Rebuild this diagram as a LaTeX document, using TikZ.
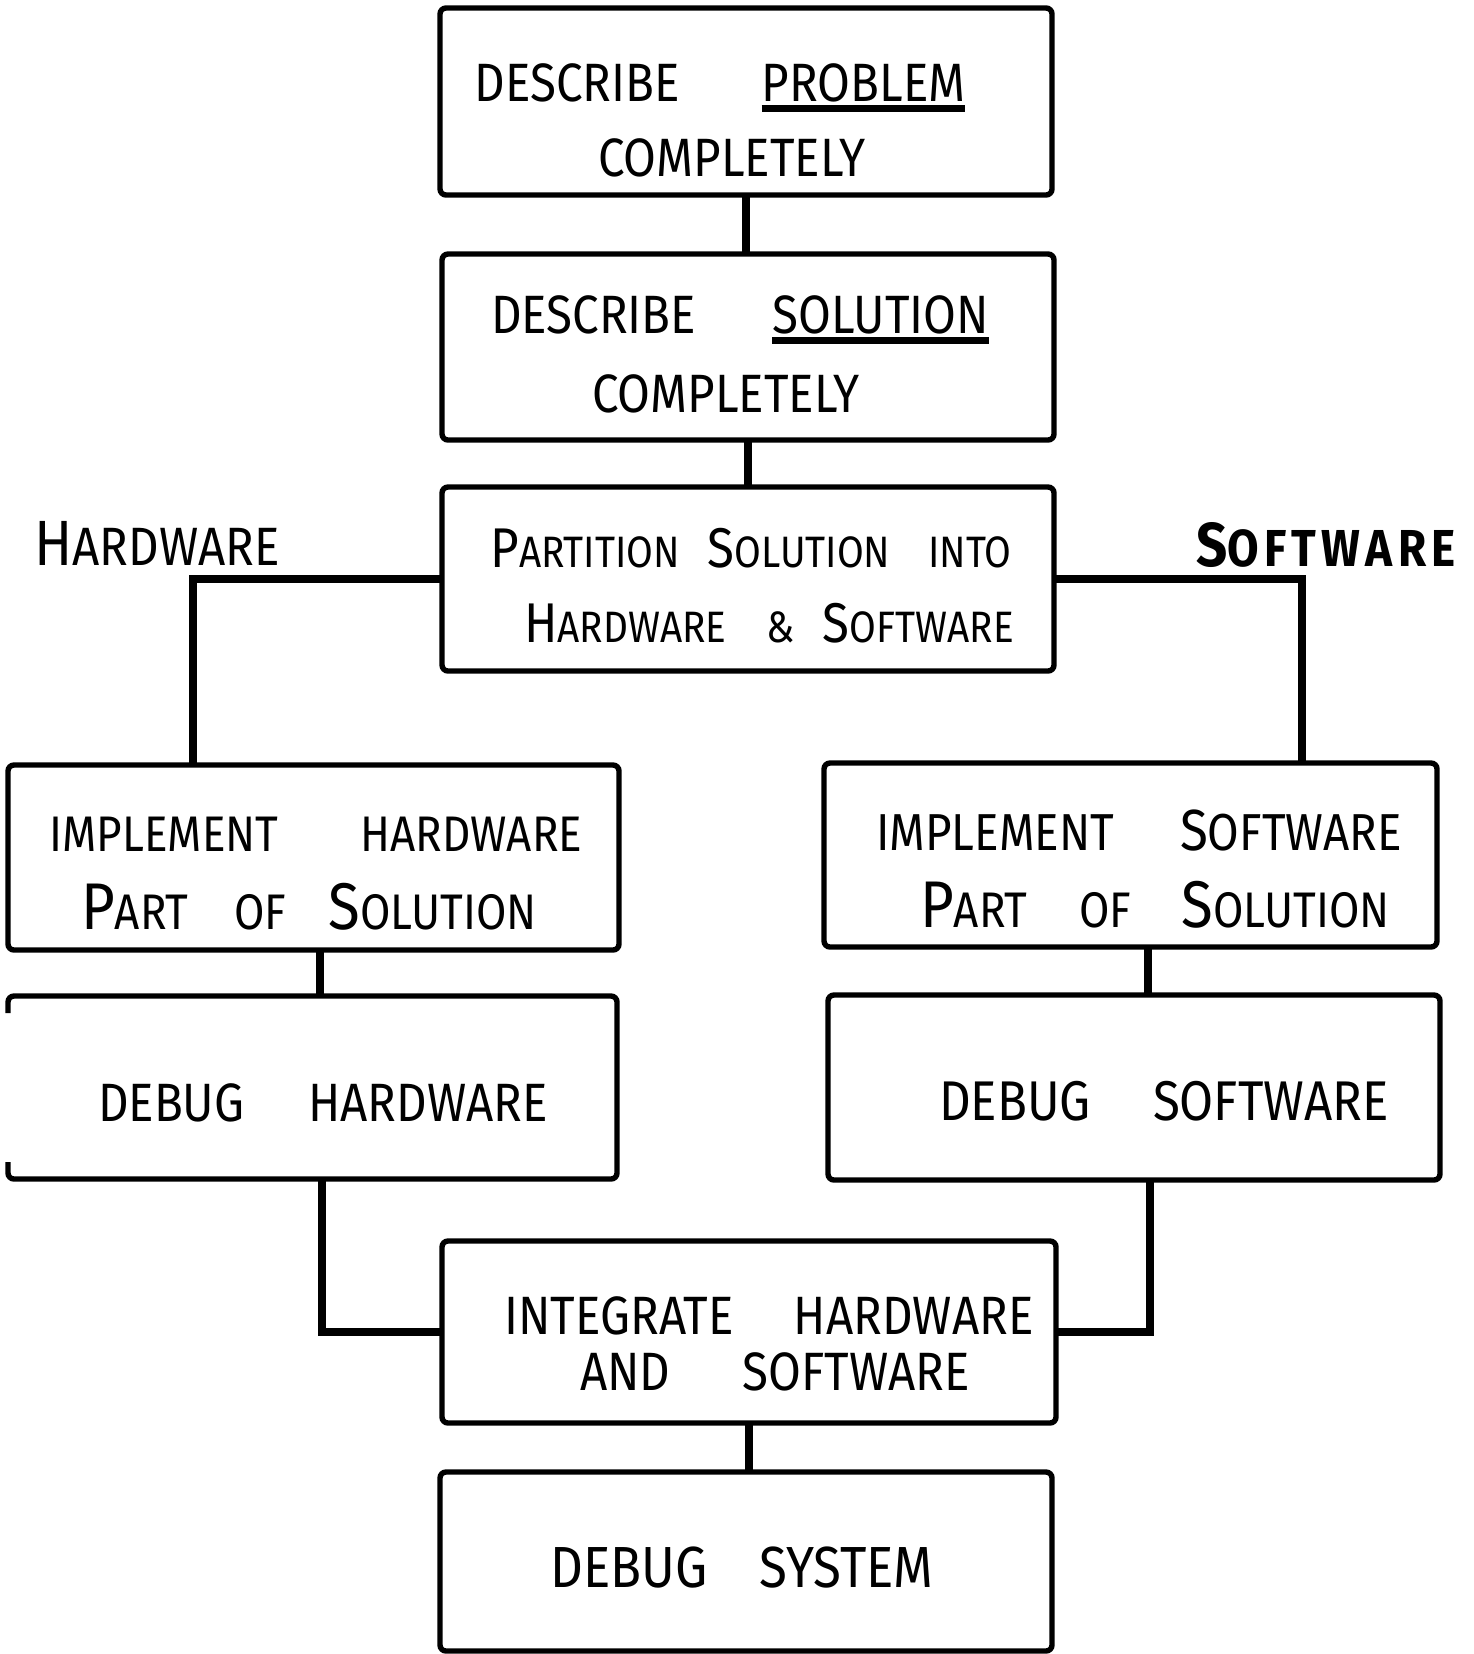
\documentclass[tikz,border=0pt]{standalone}
\usepackage{fontspec}
\newfontfamily\hand[FakeStretch=0.88]{Fira Sans}
\newcommand\handsize[1]{\fontsize{#1pt}{#1pt}\selectfont}
% a capital set larger than the rest of its word
\newcommand\Ini[2]{{\handsize{#1}#2}}
% a word with a heavy stroke under it
\newcommand\ulword[1]{\setbox0\hbox{#1}\rlap{\rule[-5pt]{\wd0}{3.6pt}}\box0}
\tikzset{
  box/.style={draw, line width=2.7pt, rounded corners=3pt, inner sep=0pt, outer sep=0pt},
  wire/.style={line width=3.6pt},
  txt/.style={inner sep=0pt, outer sep=0pt},
}
\begin{document}
\begin{tikzpicture}[x=0.5pt, y=-0.5pt]
\useasboundingbox (0,0) rectangle (1473,1654);

% boxes
\node[box, minimum width=306pt, minimum height=93.5pt] (prob) at (746,101.5) {};
\node[box, minimum width=306pt, minimum height=93pt] (sol) at (748,347) {};
\node[box, minimum width=306pt, minimum height=92pt] (part) at (748,579) {};
\node[box, minimum width=305.5pt, minimum height=92.5pt] (hwimp) at (313.5,857.5) {};
\node[box, minimum width=306.5pt, minimum height=92pt] (swimp) at (1130.5,855) {};
\node[box, draw=none, minimum width=304.5pt, minimum height=91.5pt] (hwdbg) at (312.5,1087.5) {};
\node[box, minimum width=306pt, minimum height=92.5pt] (swdbg) at (1134,1087.5) {};
\node[box, minimum width=307pt, minimum height=91pt] (integ) at (749,1332) {};
\node[box, minimum width=306pt, minimum height=89.5pt] (sys) at (746,1561.5) {};

% hardware debug box, its left side only short stubs
\draw[line width=2.7pt, rounded corners=3pt]
  ([yshift=-8.5pt]hwdbg.north west) -- (hwdbg.north west) -- (hwdbg.north east)
  -- (hwdbg.south east) -- (hwdbg.south west) -- ([yshift=8.5pt]hwdbg.south west);

% connectors
\coordinate (hwx) at (193,581);
\coordinate (swx) at (1302,581);
\coordinate (hwv) at (320,0);
\coordinate (swv) at (1148,0);
\coordinate (hwb) at (322,0);
\coordinate (swb) at (1150,0);
\draw[wire] (prob.south) -- (prob.south |- sol.north);
\draw[wire] (sol.south) -- (sol.south |- part.north);
\draw[wire] (part.west) -| (hwimp.north -| hwx);
\draw[wire] (part.east) -| (swimp.north -| swx);
\draw[wire] (hwimp.south -| hwv) -- (hwdbg.north -| hwv);
\draw[wire] (swimp.south -| swv) -- (swdbg.north -| swv);
\draw[wire] (hwdbg.south -| hwb) |- (integ.west);
\draw[wire] (swdbg.south -| swb) |- (integ.east);
\draw[wire] (integ.south) -- (integ.south |- sys.north);

% side labels
\node[txt, font={\hand\handsize{27}}] (hwlab) at (157,543) {\Ini{32}{H}ARDWARE};
\node[txt, font={\hand\bfseries\addfontfeature{LetterSpace=10}\handsize{26}}] (swlab) at (1326,545)
  {\Ini{31}{S}OFTWARE};

% box texts
\node[txt, font={\hand\handsize{27}}] (t1a) at (720,88) {DESCRIBE\hspace{41pt}\ulword{PROBLEM}};
\node[txt, font={\hand\handsize{27}}] (t1b) at (732,158) {COMPLETELY};

\node[txt, font={\hand\handsize{27}}] (t2a) at (740,320) {DESCRIBE\hspace{38pt}\ulword{SOLUTION}};
\node[txt, font={\hand\handsize{27}}] (t2b) at (726,394) {COMPLETELY};

\node[txt, font={\hand\handsize{22}}] (t3a) at (751,548)
  {\Ini{28}{P}ARTITION\hspace{14pt}\Ini{28}{S}OLUTION\hspace{19pt}INTO};
\node[txt, font={\hand\handsize{22}}] (t3b) at (769,623)
  {\Ini{28}{H}ARDWARE\hspace{20pt}\&\hspace{14pt}\Ini{28}{S}OFTWARE};

\node[txt, font={\hand\handsize{25}}] (t4a) at (316,834) {IMPLEMENT\hspace{41pt}HARDWARE};
\node[txt, font={\hand\handsize{25}}] (t4b) at (309,907)
  {\Ini{33}{P}ART\hspace{23pt}OF\hspace{21pt}\Ini{33}{S}OLUTION};

\node[txt, font={\hand\handsize{26}}] (t5a) at (1139,831) {IMPLEMENT\hspace{33pt}\Ini{29}{S}OFTWARE};
\node[txt, font={\hand\handsize{25}}] (t5b) at (1155,905)
  {\Ini{33}{P}ART\hspace{26pt}OF\hspace{25pt}\Ini{33}{S}OLUTION};

\node[txt, font={\hand\handsize{27}}] (t6) at (323,1103) {DEBUG\hspace{32pt}HARDWARE};
\node[txt, font={\hand\handsize{28}}] (t7) at (1164,1101) {DEBUG\hspace{31pt}SOFTWARE};

\node[txt, font={\hand\handsize{27}}] (t8a) at (769,1316) {INTEGRATE\hspace{30pt}HARDWARE};
\node[txt, font={\hand\handsize{27}}] (t8b) at (775,1372) {AND\hspace{36pt}SOFTWARE};

\node[txt, font={\hand\handsize{29}}] (t9) at (742,1567) {DEBUG\hspace{26pt}SYSTEM};
\end{tikzpicture}
\end{document}
